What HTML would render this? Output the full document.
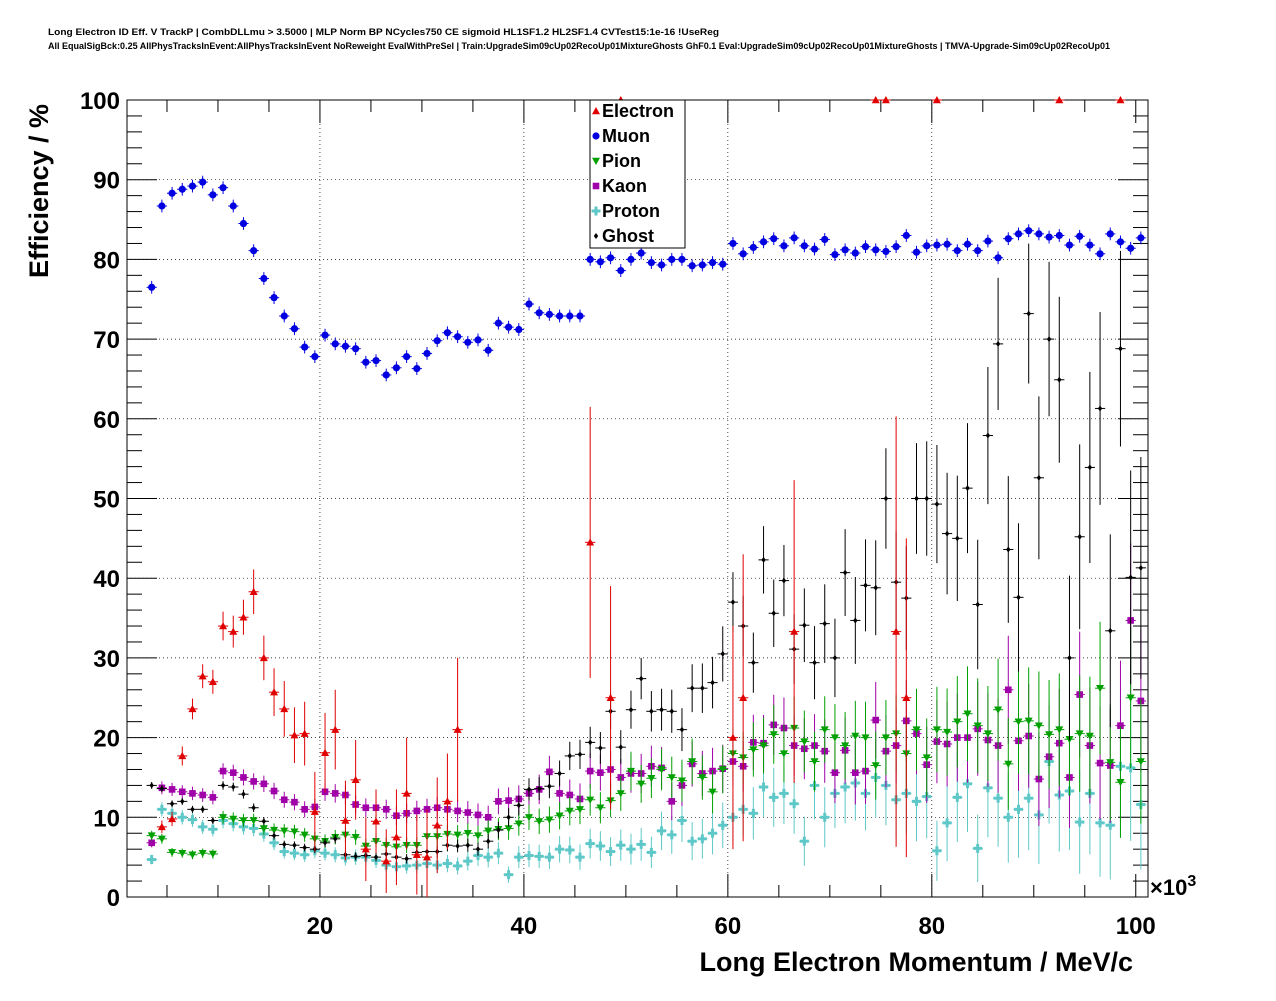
<!DOCTYPE html>
<html><head><meta charset="utf-8"><style>
body{margin:0;background:#fff;width:1276px;height:996px;overflow:hidden;font-family:"Liberation Sans",sans-serif}
svg text{font-family:"Liberation Sans",sans-serif;font-weight:bold}
</style></head><body>
<svg id="chart" width="1276" height="996" viewBox="0 0 1276 996" xmlns="http://www.w3.org/2000/svg">
<rect width="1276" height="996" fill="#fff"/>
<text x="48" y="35" font-size="9" textLength="671" lengthAdjust="spacingAndGlyphs">Long Electron ID Eff. V TrackP | CombDLLmu &gt; 3.5000 | MLP Norm BP NCycles750 CE sigmoid HL1SF1.2 HL2SF1.4 CVTest15:1e-16 !UseReg</text>
<text x="48" y="49" font-size="9" textLength="1062" lengthAdjust="spacingAndGlyphs">All EqualSigBck:0.25 AllPhysTracksInEvent:AllPhysTracksInEvent NoReweight EvalWithPreSel | Train:UpgradeSim09cUp02RecoUp01MixtureGhosts GhF0.1 Eval:UpgradeSim09cUp02RecoUp01MixtureGhosts | TMVA-Upgrade-Sim09cUp02RecoUp01</text>
<g id="grid"></g>
<g id="axes"></g>
<g id="marks"></g>
<text transform="translate(48,278) rotate(-90)" font-size="27">Efficiency / %</text>
<text x="1133" y="971" font-size="27" text-anchor="end">Long Electron Momentum / MeV/c</text>
<text x="1150" y="895" font-size="22">×10<tspan dy="-9" font-size="16">3</tspan></text>
<g id="legend"></g>
</svg>
<script>
const muon=[76.5,86.7,88.3,88.8,89.2,89.7,88.1,89.0,86.7,84.5,81.1,77.6,75.2,72.9,71.3,69.0,67.8,70.5,69.4,69.1,68.8,67.1,67.3,65.5,66.4,67.8,66.3,68.2,69.8,70.8,70.3,69.6,69.9,68.6,72.0,71.5,71.2,74.4,73.3,73.1,72.9,72.9,72.9,80.0,79.7,80.2,78.6,80.0,80.8,79.6,79.3,80.0,80.0,79.2,79.3,79.6,79.4,82.0,80.7,81.5,82.2,82.6,81.7,82.7,81.7,81.3,82.5,80.6,81.2,80.8,81.6,81.2,81.0,81.6,83.0,80.9,81.7,81.8,81.9,81.1,81.9,81.1,82.3,80.2,82.6,83.2,83.6,83.2,82.8,83.0,81.8,82.9,81.8,80.7,83.2,82.2,81.4,82.7];
const ghost=[14.0,13.6,11.7,12.0,11.0,11.0,9.6,14.0,13.8,12.9,11.2,9.5,7.7,6.6,6.5,6.2,6.0,6.8,7.3,5.3,5.1,5.2,5.0,5.4,5.0,4.8,5.6,5.7,5.7,6.5,6.4,6.5,6.0,7.0,8.4,10.0,11.5,13.5,13.6,13.9,15.5,17.7,17.9,19.4,18.7,23.3,18.8,23.5,27.4,23.3,23.5,23.3,21.0,26.2,26.2,26.9,30.5,37.0,34.0,29.4,42.3,35.6,39.7,31.1,34.1,29.4,34.3,30.0,40.7,34.7,39.1,38.8,50.0,39.5,37.5,50.0,50.0,49.3,45.6,45.0,51.3,36.7,57.9,69.4,43.6,37.6,73.2,52.6,70.0,64.9,30.0,45.2,53.9,61.3,33.4,68.8,40.1,41.3];
const pion=[7.7,7.3,5.6,5.5,5.3,5.5,5.4,10.0,9.8,9.6,9.6,8.6,8.4,8.3,8.2,7.8,7.3,7.0,7.5,7.8,7.5,6.4,7.0,6.5,6.3,6.5,6.5,7.6,7.6,7.9,7.8,8.0,7.7,8.3,8.5,8.6,9.2,10.0,9.5,9.7,10.2,10.8,11.0,12.2,11.2,12.1,13.0,15.8,14.2,14.9,16.0,15.0,14.6,17.0,15.0,13.2,16.0,18.0,17.5,18.5,19.0,20.4,18.0,21.2,19.5,17.0,21.0,20.0,19.0,20.2,20.0,16.5,20.0,20.5,18.0,21.0,17.5,21.0,20.7,22.0,23.0,21.5,20.5,23.5,16.7,22.0,22.1,21.5,20.4,21.0,19.8,20.5,20.2,26.2,16.9,14.4,25.0,17.0];
const kaon=[6.8,13.7,13.5,13.2,13.0,12.8,12.5,15.8,15.6,15.0,14.5,14.2,13.3,12.2,11.9,11.0,11.3,13.2,13.0,12.8,11.6,11.2,11.2,11.0,10.2,10.5,10.8,11.0,11.2,11.0,10.8,10.6,10.3,10.0,12.0,12.1,12.3,13.0,13.5,15.7,13.0,12.8,12.3,15.8,15.6,16.0,15.0,15.5,15.5,16.4,16.2,12.0,14.0,16.7,15.5,15.8,16.1,17.0,16.4,19.4,19.3,21.6,21.2,19.0,18.6,19.0,18.3,15.6,18.4,15.6,15.8,22.2,18.3,19.0,22.1,20.5,16.6,19.5,19.2,20.0,20.0,21.1,19.7,19.0,26.0,19.6,20.2,14.8,17.6,19.3,15.0,25.4,19.0,16.8,16.5,21.5,34.7,24.6];
const proton=[4.7,11.0,10.5,10.0,9.7,8.8,8.5,9.6,9.2,8.8,8.6,7.9,6.8,5.7,5.5,5.3,5.8,5.5,5.3,4.9,5.0,5.0,4.6,4.0,3.8,3.9,4.0,4.2,4.0,4.2,3.9,4.5,5.2,5.0,5.5,2.8,5.0,5.2,5.1,5.0,6.0,5.9,5.0,6.7,6.4,5.7,6.5,6.0,6.6,5.6,8.3,7.8,9.6,7.0,7.3,8.0,9.0,10.0,11.0,10.5,13.8,12.5,13.0,11.7,7.0,14.0,10.0,13.0,13.8,14.3,13.0,15.0,14.0,12.2,13.0,12.0,12.6,5.8,9.3,12.5,14.2,6.1,13.7,12.4,10.0,11.0,12.4,10.3,17.0,12.8,13.3,9.4,13.0,9.3,9.0,16.4,16.2,11.6];
const elecP=[4.5,5.5,6.5,7.5,8.5,9.5,10.5,11.5,12.5,13.5,14.5,15.5,16.5,17.5,18.5,19.5,20.5,21.5,22.5,23.5,24.5,25.5,26.5,27.5,28.5,29.5,30.5,31.5,32.5,33.5,46.5,48.5,49.5,60.5,61.5,66.5,74.5,75.5,76.5,77.5,80.5,92.5,98.5];
const elecV=[8.8,9.8,17.7,23.6,27.7,27.0,34.0,33.3,35.1,38.3,30.0,25.7,23.6,20.3,20.5,10.7,18.1,21.0,9.6,14.7,6.0,9.5,4.5,7.5,13.0,5.3,5.0,9.0,12.0,21.0,44.5,25.0,100,20.0,25.0,33.3,100,100,33.3,25.0,100,100,100];
const elecE=[0.8,0.9,1.2,1.3,1.5,1.5,1.8,2,2.2,2.8,2.8,3,3.5,3.5,4,5,5,5,5,5,4,4,4,6,7,5,6,6,6,9,17,14,0,14,18,19,0,0,27,20,0,0,0];
const yTicks=[0,10,20,30,40,50,60,70,80,90,100];
const xTicks=[20,40,60,80,100];
const legendLabels=["Electron","Muon","Pion","Kaon","Proton","Ghost"];

const X0=127,X1=1148,Y0=897,Y1=100,XMIN=1.08,XMAX=101.2;
const sx=v=>X0+(v-XMIN)/(XMAX-XMIN)*(X1-X0);
const sy=v=>Y0-(v/100)*(Y0-Y1);
const NS="http://www.w3.org/2000/svg";
function mk(tag,at,parent){const e=document.createElementNS(NS,tag);for(const k in at)e.setAttribute(k,at[k]);parent.appendChild(e);return e;}
const grid=document.getElementById('grid'),axes=document.getElementById('axes'),marks=document.getElementById('marks'),legend=document.getElementById('legend');

yTicks.forEach(t=>{
 if(t>0&&t<100){const g=mk('line',{x1:X0,x2:X1,y1:sy(t),y2:sy(t),stroke:'#000','stroke-width':0.7,'stroke-dasharray':'1,3'},grid);
 
 }
 const l=mk('text',{x:120,y:sy(t)+9,'font-size':24,'text-anchor':'end'},axes);l.textContent=t;
 
 
 mk('line',{x1:X0,x2:X0+30,y1:sy(t),y2:sy(t),stroke:'#000'},axes);
 mk('line',{x1:X1,x2:X1-30,y1:sy(t),y2:sy(t),stroke:'#000'},axes);
});
for(let t=0;t<100;t+=2){if(t%10)mk('line',{x1:X0,x2:X0+15,y1:sy(t),y2:sy(t),stroke:'#000'},axes),mk('line',{x1:X1,x2:X1-15,y1:sy(t),y2:sy(t),stroke:'#000'},axes);}
xTicks.forEach(t=>{
 if(t<100){const g=mk('line',{x1:sx(t),x2:sx(t),y1:Y0,y2:Y1,stroke:'#000','stroke-width':0.7,'stroke-dasharray':'1,3'},grid);
 
 }
 const l=mk('text',{x:sx(t),y:934,'font-size':24,'text-anchor':'middle'},axes);l.textContent=t;
 
 
 mk('line',{x1:sx(t),x2:sx(t),y1:Y0,y2:Y0-23,stroke:'#000'},axes);
 mk('line',{x1:sx(t),x2:sx(t),y1:Y1,y2:Y1+23,stroke:'#000'},axes);
});
for(let t=5;t<101;t+=5){if(t%20)mk('line',{x1:sx(t),x2:sx(t),y1:Y0,y2:Y0-12,stroke:'#000'},axes),mk('line',{x1:sx(t),x2:sx(t),y1:Y1,y2:Y1+12,stroke:'#000'},axes);}
const frame=mk('rect',{x:X0,y:Y1,width:X1-X0,height:Y0-Y1,fill:'none',stroke:'#000','stroke-width':1},axes);



function marker(shape,cx,cy,col,parent){
 const s=4;
 if(shape==='tu')return mk('polygon',{points:`${cx},${cy-s} ${cx-s},${cy+s*0.8} ${cx+s},${cy+s*0.8}`,fill:col},parent);
 if(shape==='td')return mk('polygon',{points:`${cx},${cy+s} ${cx-s},${cy-s*0.8} ${cx+s},${cy-s*0.8}`,fill:col},parent);
 if(shape==='c')return mk('circle',{cx:cx,cy:cy,r:3.6,fill:col},parent);
 if(shape==='s')return mk('rect',{x:cx-3.3,y:cy-3.3,width:6.6,height:6.6,fill:col},parent);
 if(shape==='p'){const g=mk('g',{},parent);mk('rect',{x:cx-4.5,y:cy-1.5,width:9,height:3,fill:col},g);mk('rect',{x:cx-1.5,y:cy-4.5,width:3,height:9,fill:col},g);return g;}
 return mk('polygon',{points:`${cx},${cy-3} ${cx-2.2},${cy} ${cx},${cy+3} ${cx+2.2},${cy}`,fill:col},parent);
}
function series(name,vals,ps,errs,shape,col){
 const g=mk('g',{},marks);
 
 
 vals.forEach((v,i)=>{
  const p=ps?ps[i]:3.5+i;
  const cx=sx(p),cy=sy(v),e=errs(v,p,i);
  mk('line',{x1:sx(p-0.5),x2:sx(p+0.5),y1:cy,y2:cy,stroke:col,'stroke-width':1},g);
  if(e>0)mk('line',{x1:cx,x2:cx,y1:sy(Math.min(100,v+e)),y2:sy(Math.max(0,v-e)),stroke:col,'stroke-width':1},g);
  const m=marker(shape,cx,cy,col,g);
  
  
 });
}
function binErr(N0,k){return (v,p)=>{const f=v/100,N=Math.max(4,N0*Math.exp(-(p-20)/k));return 100*Math.sqrt(Math.max(f*(1-f),0.01)/N);};}
series('proton',proton,null,binErr(600,22),'p','#5ec8c8');
series('kaon',kaon,null,binErr(900,22),'s','#a000a8');
series('pion',pion,null,binErr(900,22),'td','#00a000');
series('ghost',ghost,null,binErr(2256,15.5),'d','#000');
series('electron',elecV,elecP,(v,p,i)=>elecE[i],'tu','#e00000');
series('muon',muon,null,(v)=>0.8,'c','#0000e0');

mk('rect',{x:590,y:100,width:95,height:148,fill:'#fff',stroke:'#000','stroke-width':1},legend);
const lshapes=['tu','c','td','s','p','d'],lcols=['#e00000','#0000e0','#00a000','#a000a8','#5ec8c8','#000'];
legendLabels.forEach((lab,i)=>{
 const y=111+i*25;
 const e=mk('g',{},legend);
 
 
 marker(lshapes[i],596,y,lcols[i],e);
 const t=mk('text',{x:602,y:y+6,'font-size':18},e);t.textContent=lab;
});
</script>
</body></html>
